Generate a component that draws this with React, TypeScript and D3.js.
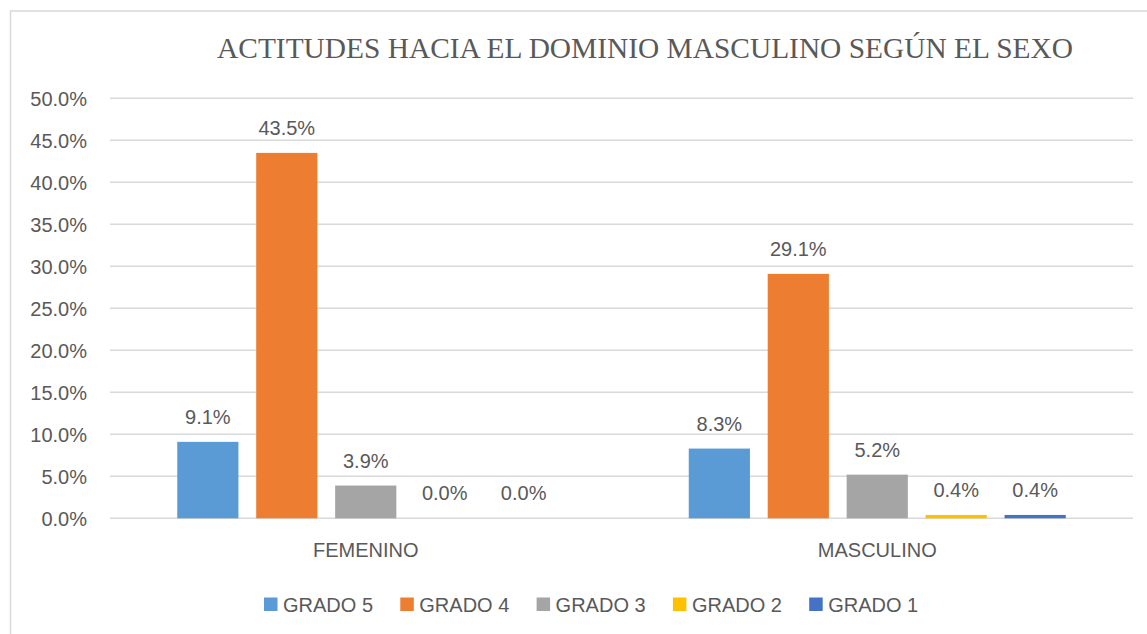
import React from "react";
import * as d3 from "d3";

const title = "ACTITUDES HACIA EL DOMINIO MASCULINO SEGÚN EL SEXO";
const categories = ["FEMENINO", "MASCULINO"];
const seriesNames = ["GRADO 5", "GRADO 4", "GRADO 3", "GRADO 2", "GRADO 1"];
const seriesColors = ["#5B9BD5", "#ED7D31", "#A5A5A5", "#FFC000", "#4472C4"];
// values per series, in category order [FEMENINO, MASCULINO]
const grado5 = [9.1, 8.3];
const grado4 = [43.5, 29.1];
const grado3 = [3.9, 5.2];
const grado2 = [0.0, 0.4];
const grado1 = [0.0, 0.4];
const seriesValues = [grado5, grado4, grado3, grado2, grado1];
const yTicks = [0, 5, 10, 15, 20, 25, 30, 35, 40, 45, 50];

const W = 1147;
const H = 634;
const textColor = "#595959";
const gridColor = "#D9D9D9";
const sans = "'Liberation Sans', Arial, sans-serif";

export default function App() {
  const plotLeft = 110;
  const plotRight = 1133;
  const y = d3.scaleLinear().domain([0, 50]).range([518.3, 98.3]);
  const x0 = d3.scaleBand<string>().domain(categories).range([plotLeft, plotRight]).paddingInner(0).paddingOuter(0);
  const groupHalf = 188.5;
  const x1 = d3
    .scaleBand<string>()
    .domain(seriesNames)
    .range([-groupHalf, groupHalf])
    .paddingInner(0.225)
    .paddingOuter(0);

  const legendStart = 264;
  const legendStep = 136.3;
  const legendY = 597.5;

  return (
    <div style={{ position: "fixed", left: 0, top: 0 }}>
      <svg width={W} height={H} style={{ display: "block", background: "#fff" }}>
        <rect x={0} y={0} width={W} height={H} fill="#fff" />
        <rect x={10.5} y={11} width={W + 20} height={H + 20} fill="none" stroke={gridColor} strokeWidth={1.5} />
        <text
          x={645}
          y={58}
          textAnchor="middle"
          fontFamily="'Liberation Serif', 'Times New Roman', serif"
          fontSize={29.4}
          fill={textColor}
        >
          {title}
        </text>
        {yTicks.map((t) => (
          <g key={t}>
            <line x1={plotLeft} x2={plotRight} y1={y(t)} y2={y(t)} stroke={gridColor} strokeWidth={1.5} />
            <text x={87} y={y(t) + 7.3} textAnchor="end" fontFamily={sans} fontSize={20} fill={textColor}>
              {t.toFixed(1) + "%"}
            </text>
          </g>
        ))}
        {categories.map((c, ci) => {
          const cx = (x0(c) as number) + x0.bandwidth() / 2;
          return (
            <g key={c}>
              {seriesNames.map((s, si) => {
                const v = seriesValues[si][ci];
                const bx = cx + (x1(s) as number);
                const by = y(v);
                return (
                  <g key={s}>
                    <rect x={bx} y={by} width={x1.bandwidth()} height={y(0) - by} fill={seriesColors[si]} />
                    <text
                      x={bx + x1.bandwidth() / 2}
                      y={by - 18}
                      textAnchor="middle"
                      fontFamily={sans}
                      fontSize={20}
                      fill={textColor}
                    >
                      {v.toFixed(1) + "%"}
                    </text>
                  </g>
                );
              })}
              <text x={cx} y={556.5} textAnchor="middle" fontFamily={sans} fontSize={20} fill={textColor}>
                {c}
              </text>
            </g>
          );
        })}
        {seriesNames.map((s, si) => {
          const lx = legendStart + si * legendStep;
          return (
            <g key={s}>
              <rect x={lx} y={legendY} width={13.5} height={13.5} fill={seriesColors[si]} />
              <text x={lx + 19} y={legendY + 14} fontFamily={sans} fontSize={20} fill={textColor}>
                {s}
              </text>
            </g>
          );
        })}
      </svg>
    </div>
  );
}
